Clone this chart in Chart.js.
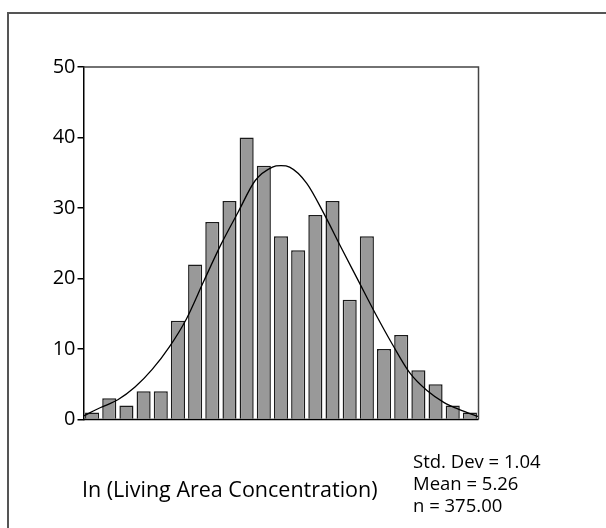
<!DOCTYPE html>
<html>
<head>
<meta charset="utf-8">
<script src="https://cdn.jsdelivr.net/npm/chart.js@4/dist/chart.umd.min.js"></script>
<style>
  html, body { margin: 0; padding: 0; background: #fff; }
  canvas { display: block; }
</style>
</head>
<body>
<canvas id="hist" width="606" height="528"></canvas>
<script>
// Histogram of ln(living area concentration), 23 bins of equal width
const binCounts = [1, 3, 2, 4, 4, 14, 22, 28, 31, 40, 36, 26, 24, 29, 31, 17, 26, 10, 12, 7, 5, 2, 1];

// Fitted normal curve, sampled at the bin edges (x in bin units)
const curveX = [0, 1, 2, 3, 4, 5, 6, 7, 8, 9, 10, 11, 11.5, 12, 13, 14, 15, 16, 17, 18, 19, 20, 21, 22, 23];
const curveY = [0.5, 1.7, 2.8, 4.6, 7.1, 10.3, 14.3, 19.6, 24.8, 29.4, 33.9, 35.8, 36.0, 35.8, 33.5, 29.2, 24.4, 19.7, 15.0, 10.6, 6.6, 4.1, 2.4, 1.3, 0.4];

const yTicks = [0, 10, 20, 30, 40, 50];

const axisTitle = 'In (Living Area Concentration)';
const statLines = ['Std. Dev = 1.04', 'Mean = 5.26', 'n = 375.00'];

const FONT = '"Open Sans", "Noto Sans", sans-serif';

const barPoints = binCounts.map((v, i) => ({ x: i + 0.5, y: v }));
const curvePoints = curveX.map((x, i) => ({ x: x, y: curveY[i] }));

// Outer frame, plot box and text blocks
const decorations = {
  id: 'decorations',
  beforeDraw(chart) {
    const ctx = chart.ctx;
    ctx.save();
    ctx.fillStyle = '#fff';
    ctx.fillRect(0, 0, chart.width, chart.height);
    ctx.strokeStyle = '#555';
    ctx.lineWidth = 2;
    ctx.beginPath();
    ctx.moveTo(8, chart.height);
    ctx.lineTo(8, 13);
    ctx.lineTo(chart.width, 13);
    ctx.stroke();
    ctx.restore();
  },
  afterDraw(chart) {
    const ctx = chart.ctx;
    const a = chart.chartArea;
    ctx.save();
    // top and right edges of the plot box
    ctx.strokeStyle = '#444';
    ctx.lineWidth = 1.5;
    ctx.beginPath();
    ctx.moveTo(a.left, a.top);
    ctx.lineTo(a.right, a.top);
    ctx.lineTo(a.right, a.bottom);
    ctx.stroke();
    // baseline
    ctx.strokeStyle = '#000';
    ctx.beginPath();
    ctx.moveTo(a.left, a.bottom);
    ctx.lineTo(a.right, a.bottom);
    ctx.stroke();

    ctx.fillStyle = '#000';
    ctx.textBaseline = 'alphabetic';
    ctx.textAlign = 'left';
    ctx.font = '21.5px ' + FONT;
    ctx.fillText(axisTitle, 82, 497);
    ctx.font = '18.5px ' + FONT;
    statLines.forEach((t, i) => ctx.fillText(t, 413, 468 + i * 22));
    ctx.restore();
  }
};

new Chart(document.getElementById('hist'), {
  type: 'bar',
  data: {
    datasets: [
      {
        type: 'line',
        data: curvePoints,
        borderColor: '#000',
        borderWidth: 1.3,
        pointRadius: 0,
        fill: false,
        cubicInterpolationMode: 'monotone',
        order: 0
      },
      {
        type: 'bar',
        data: barPoints,
        backgroundColor: '#999999',
        borderColor: '#1a1a1a',
        borderWidth: 1.5,
        barPercentage: 0.82,
        categoryPercentage: 1.0,
        order: 1
      }
    ]
  },
  options: {
    responsive: false,
    animation: false,
    events: [],
    layout: { padding: { left: 0, top: 67, right: 127.5, bottom: 108.5 } },
    plugins: { legend: { display: false }, tooltip: { enabled: false } },
    scales: {
      x: {
        type: 'linear',
        min: 0,
        max: 23,
        offset: false,
        display: false,
        ticks: { stepSize: 1 }
      },
      y: {
        min: 0,
        max: 50,
        afterBuildTicks(scale) {
          scale.ticks = yTicks.map(v => ({ value: v }));
        },
        afterFit(scale) { scale.width = 83.5; },
        grid: {
          drawOnChartArea: false,
          drawTicks: true,
          tickLength: 6,
          color: '#000',
          lineWidth: 1.5
        },
        border: { display: true, color: '#000', width: 1.5 },
        ticks: {
          color: '#000',
          padding: 2,
          font: { family: FONT, size: 20 }
        }
      }
    }
  },
  plugins: [decorations]
});
</script>
</body>
</html>
